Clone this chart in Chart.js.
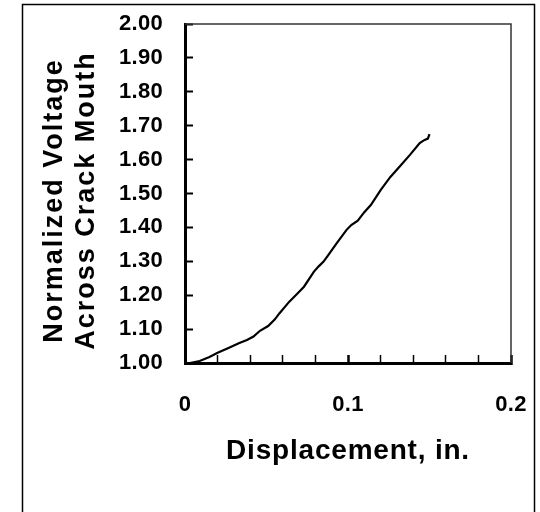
<!DOCTYPE html>
<html>
<head>
<meta charset="utf-8">
<script src="https://cdn.jsdelivr.net/npm/chart.js@4.4.1/dist/chart.umd.min.js"></script>
<style>
  html, body { margin: 0; padding: 0; background: #fff; }
  #wrap { position: relative; width: 540px; height: 512px; }
</style>
</head>
<body>
<div id="wrap"><canvas id="chart" width="540" height="512"></canvas></div>
<script>
// Values
var dispIn = [0.003, 0.009, 0.015, 0.020, 0.026, 0.033, 0.038, 0.042, 0.046, 0.051, 0.055,
  0.058, 0.064, 0.069, 0.073, 0.079, 0.082, 0.085, 0.088, 0.093, 0.099, 0.102, 0.106,
  0.110, 0.114, 0.120, 0.126, 0.132, 0.138, 0.144, 0.147, 0.149, 0.150];
var voltNorm = [1.000, 1.006, 1.018, 1.030, 1.043, 1.058, 1.068, 1.078, 1.095, 1.109, 1.128,
  1.147, 1.181, 1.205, 1.225, 1.269, 1.285, 1.299, 1.319, 1.353, 1.392, 1.407, 1.420,
  1.445, 1.466, 1.510, 1.549, 1.581, 1.614, 1.649, 1.658, 1.662, 1.675];

var xLabelled = [0, 0.1, 0.2];
var xLabels = ['0', '0.1', '0.2'];
var xTitle = 'Displacement, in.';
var yTitle = ['Normalized Voltage', 'Across Crack Mouth'];

var FONT = '"Liberation Sans", Arial, sans-serif';

var points = dispIn.map(function(x, i) { return { x: x, y: voltNorm[i] }; });

// letter spacing per axis: [tick labels, title]; y title sits a bit below centre
var textSpacing = { x: ['0.3px', '0.8px'], y: ['0.3px', '2px'] };
var titleShiftY = { x: 0, y: 7 };

var spacing = {
  id: 'spacing',
  beforeDraw: function(chart) {
    Object.keys(chart.scales).forEach(function(k) {
      var s = chart.scales[k];
      if (s._spaced) return;
      s._spaced = true;
      ['drawLabels', 'drawTitle'].forEach(function(fn, i) {
        var orig = s[fn];
        s[fn] = function() {
          var c = this.ctx;
          c.save();
          c.letterSpacing = textSpacing[k][i];
          if (i) c.translate(0, titleShiftY[k]);
          orig.apply(this, arguments);
          c.restore();
        };
      });
    });
  }
};

// plot box top/right edges and the outer chart frame
var frame = {
  id: 'frame',
  beforeDatasetsDraw: function(chart) {
    var a = chart.chartArea, c = chart.ctx;
    c.save();
    c.strokeStyle = '#333';
    c.lineWidth = 1.5;
    c.beginPath();
    c.moveTo(a.left, a.top);
    c.lineTo(a.right, a.top);
    c.lineTo(a.right, a.bottom);
    c.stroke();
    c.strokeStyle = '#000';
    c.strokeRect(22.5, 4.5, 512, 540);
    c.restore();
  }
};

function xLabel(v) {
  for (var i = 0; i < xLabelled.length; i++) {
    if (Math.abs(v - xLabelled[i]) < 1e-9) return xLabels[i];
  }
  return '';
}

function noPad(s) {
  s.paddingLeft = s.paddingRight = s.paddingTop = s.paddingBottom = 0;
}

new Chart(document.getElementById('chart'), {
  type: 'scatter',
  data: {
    datasets: [{
      data: points,
      showLine: true,
      borderColor: '#000',
      borderWidth: 2.2,
      pointRadius: 0,
      tension: 0
    }]
  },
  options: {
    responsive: false,
    animation: false,
    layout: { padding: { left: 30, right: 29, top: 24, bottom: 0 } },
    plugins: { legend: { display: false }, tooltip: { enabled: false } },
    scales: {
      x: {
        type: 'linear', min: 0, max: 0.2,
        ticks: {
          stepSize: 0.02, padding: 37, color: '#000', maxRotation: 0, autoSkip: false,
          font: { family: FONT, size: 22, weight: 'bold' },
          callback: function(v) { return xLabel(v); }
        },
        grid: {
          drawOnChartArea: false, tickLength: -8, tickColor: '#000',
          tickWidth: function(ctx) { return xLabel(ctx.tick ? ctx.tick.value : -1) ? 2.5 : 1.5; }
        },
        border: { color: '#000', width: 3 },
        title: {
          display: true, text: xTitle, color: '#000',
          font: { family: FONT, size: 28, weight: 'bold', lineHeight: 1.2 },
          padding: { top: 0, bottom: 44 }
        },
        afterFit: function(s) { s.height = 149; noPad(s); }
      },
      y: {
        type: 'linear', min: 1, max: 2,
        ticks: {
          stepSize: 0.1, padding: 30, color: '#000',
          font: { family: FONT, size: 22, weight: 'bold' },
          callback: function(v) { return v.toFixed(2); }
        },
        grid: { drawOnChartArea: false, tickLength: -8, tickColor: '#000', tickWidth: 2 },
        border: { color: '#000', width: 3 },
        title: {
          display: true, text: yTitle, color: '#000',
          font: { family: FONT, size: 27, weight: 'bold', lineHeight: 1.185 },
          padding: { top: 9, bottom: 0 }
        },
        afterFit: function(s) { s.width = 155; noPad(s); }
      }
    }
  },
  plugins: [spacing, frame]
});
</script>
</body>
</html>
